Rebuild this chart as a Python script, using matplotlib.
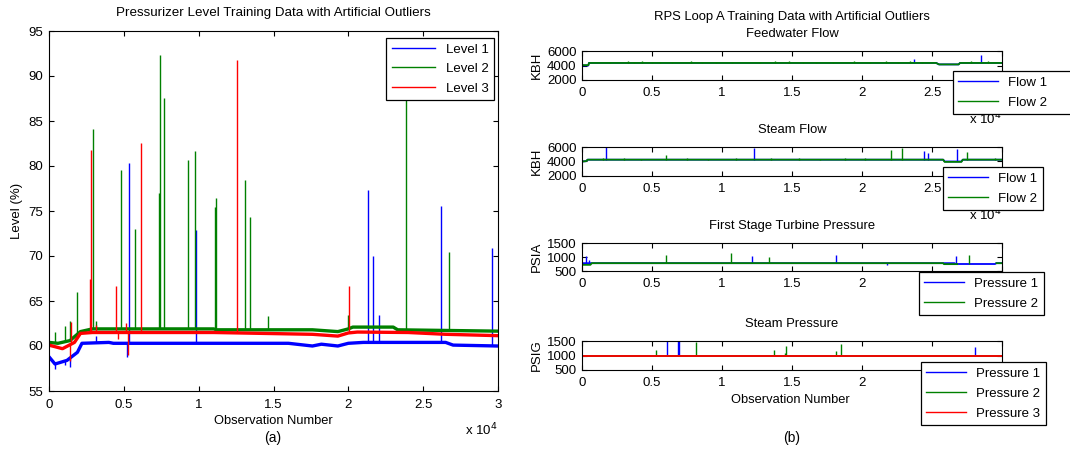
import numpy as np
import matplotlib.pyplot as plt
from matplotlib.ticker import FuncFormatter

plt.rcParams['font.family'] = ['Liberation Sans', 'DejaVu Sans']
plt.rcParams['font.size'] = 9.5

BLUE = (0, 0, 1)
GREEN = (0, 0.5, 0)
RED = (1, 0, 0)

# ---- pressurizer level (%) : baseline knots and outlier spikes ----
lvl1_x = [0, 400, 1200, 1900, 2200, 4000, 4300, 9000, 16000, 17600, 18200, 19300, 20000, 21000, 26500, 27000, 30000]
lvl1_y = [58.8, 58.0, 58.4, 59.3, 60.3, 60.4, 60.3, 60.3, 60.3, 60.0, 60.2, 60.0, 60.3, 60.4, 60.4, 60.1, 60.0]
lvl1_spk_x = [400, 1100, 1400, 3150, 5200, 5366, 9844, 21300, 21620, 22050, 26170, 29580]
lvl1_spk_y = [57.5, 57.9, 57.7, 61.1, 58.8, 80.3, 72.9, 77.3, 70.0, 63.5, 75.6, 70.9]

lvl2_x = [0, 600, 1400, 2100, 2900, 11000, 11200, 17600, 19300, 20000, 20300, 23000, 23300, 30000]
lvl2_y = [60.4, 60.3, 60.6, 61.6, 61.9, 61.9, 61.8, 61.8, 61.6, 61.9, 62.1, 62.1, 61.8, 61.65]
lvl2_spk_x = [390, 1070, 1400, 1848, 2940, 3150, 4790, 5768, 7350, 7416, 7706, 9287, 9777,
              11091, 11158, 13128, 13430, 14630, 20000, 23853, 26700]
lvl2_spk_y = [61.6, 62.2, 62.8, 66.0, 84.1, 62.8, 79.6, 73.0, 77.0, 92.3, 87.6, 80.7, 81.7,
              75.5, 76.5, 78.4, 74.3, 63.3, 63.4, 90.0, 70.5]

lvl3_x = [0, 900, 1700, 2100, 2900, 11000, 17600, 19300, 20000, 20600, 24000, 26500, 30000]
lvl3_y = [60.1, 59.7, 60.4, 61.4, 61.5, 61.5, 61.3, 61.1, 61.45, 61.55, 61.5, 61.3, 61.15]
lvl3_spk_x = [1400, 1450, 2740, 2806, 3150, 4455, 4600, 5150, 5250, 6125, 12561, 20050]
lvl3_spk_y = [58.3, 62.7, 67.5, 81.8, 62.3, 66.7, 60.8, 62.6, 59.0, 82.6, 91.8, 66.7]

# ---- feedwater flow (KBH) ----
fw1_x = [0, 450, 500, 25300, 25500, 26900, 27000, 30000]
fw1_y = [4000, 4000, 4350, 4350, 4150, 4150, 4350, 4350]
fw1_spk_x = [23738, 28500]
fw1_spk_y = [4950, 5500]
fw2_x = [0, 450, 500, 25300, 25500, 26900, 27000, 30000]
fw2_y = [4050, 4050, 4350, 4350, 4150, 4150, 4350, 4350]
fw2_spk_x = [2000, 3300, 3700, 4300, 5000, 5600, 6400, 7800, 8600, 9600, 10700, 12700, 13800,
             14800, 15800, 16700, 17900, 19400, 20600, 21700, 22600, 23400, 24300, 27800, 29000]
fw2_spk_y = [4550, 4600, 4550, 4600, 4550, 4500, 4550, 4600, 4550, 4550, 4500, 4550, 4600,
             4600, 4550, 4550, 4550, 4600, 4550, 4600, 4550, 4600, 4500, 4600, 4650]

# ---- steam flow (KBH) ----
sf1_x = [0, 300, 400, 25800, 25900, 27100, 27200, 30000]
sf1_y = [4000, 4050, 4250, 4250, 4000, 4000, 4250, 4250]
sf1_spk_x = [1714, 12310, 24400, 24700, 26786]
sf1_spk_y = [5950, 5820, 5400, 5170, 5680]
sf2_x = [0, 300, 400, 25800, 25900, 27100, 27200, 30000]
sf2_y = [4000, 4050, 4250, 4250, 3950, 3950, 4250, 4250]
sf2_spk_x = [1500, 3000, 4200, 5976, 7500, 9000, 11000, 13500, 15500, 17000, 18800, 20200, 22071, 22880, 27500, 29500]
sf2_spk_y = [4450, 4450, 4400, 4950, 4450, 4400, 4450, 4450, 4450, 4400, 4450, 4450, 5540, 5860, 5270, 4450]

# ---- first stage turbine pressure (PSIA) ----
ft1_x = [0, 26600, 26700, 29500, 29600, 30000]
ft1_y = [780, 780, 750, 750, 780, 780]
ft1_spk_x = [262, 500, 12143, 18167, 21786, 26690]
ft1_spk_y = [1050, 900, 1030, 1070, 730, 1030]
ft2_x = [0, 600, 700, 25800, 25850, 26800, 26850, 26900, 29550, 29600, 30000]
ft2_y = [720, 720, 780, 780, 745, 745, np.nan, np.nan, np.nan, 780, 780]
ft2_spk_x = [5976, 10619, 13357, 27667]
ft2_spk_y = [1068, 1131, 1005, 1068]

# ---- steam pressure (PSIG) ----
sp_x = [0, 30000]
sp1_y = [1000, 1000]
sp2_y = [1000, 1000]
sp3_y = [1000, 1000]
sp1_spk_x = [6048, 6881, 6950, 28071]
sp1_spk_y = [1500, 1500, 1500, 1295]
sp2_spk_x = [5286, 8119, 13714, 14500, 14595, 18119, 18476]
sp2_spk_y = [1180, 1455, 1180, 1100, 1340, 1150, 1385]


def draw(ax, x, y, sx, sy, color, label, lw):
    line, = ax.plot(x, y, color=color, lw=lw, label=label)
    if len(sx):
        ok = ~np.isnan(y)
        base = np.interp(sx, np.asarray(x)[ok], np.asarray(y)[ok])
        ax.vlines(sx, base, sy, color=color, lw=1.0)
    return line


def style(ax, ylim, yticks, xpad):
    ax.set_xlim(0, 30000)
    ax.set_ylim(*ylim)
    ax.set_yticks(yticks)
    ax.set_xticks(np.arange(0, 30001, 5000))
    ax.xaxis.set_major_formatter(FuncFormatter(lambda v, p: '%g' % (v / 1e4)))
    ax.tick_params(direction='in', top=True, right=True, length=3.5, width=0.8)
    ax.tick_params(axis='x', pad=xpad)
    ax.tick_params(axis='y', pad=4)
    for s in ax.spines.values():
        s.set_linewidth(0.8)


W, H = 1070, 449
fig = plt.figure(figsize=(W / 100, H / 100), dpi=100)


def box(l, t, r, b):
    return [l / W, 1 - b / H, (r - l) / W, (b - t) / H]


# left: pressurizer level
ax = fig.add_axes(box(49, 31, 498, 391))
h1 = draw(ax, lvl1_x, lvl1_y, lvl1_spk_x, lvl1_spk_y, BLUE, 'Level 1', 2.4)
h2 = draw(ax, lvl2_x, lvl2_y, lvl2_spk_x, lvl2_spk_y, GREEN, 'Level 2', 2.4)
h3 = draw(ax, lvl3_x, lvl3_y, lvl3_spk_x, lvl3_spk_y, RED, 'Level 3', 2.4)
style(ax, (55, 95), np.arange(55, 96, 5), 6)
ax.text(1.0, -0.085, r'x 10$^4$', transform=ax.transAxes, ha='right', va='top', zorder=3)
ax.set_ylabel('Level (%)', labelpad=4)
leg = ax.legend(handles=[h1, h2, h3], loc='upper right', bbox_to_anchor=(494 / W, 1 - 38 / H),
                bbox_transform=fig.transFigure, fontsize=9.5, fancybox=False, framealpha=1,
                edgecolor='black', handlelength=3.3, borderaxespad=0, labelspacing=0.55)
for l in leg.get_lines():
    l.set_linewidth(1.0)
leg.get_frame().set_linewidth(0.9)
fig.text(273 / W, 1 - 13 / H, 'Pressurizer Level Training Data with Artificial Outliers',
         ha='center', va='center', fontsize=9.6)
fig.text(273 / W, 1 - 421 / H, 'Observation Number', ha='center', va='center', fontsize=9.3)
fig.text(273 / W, 1 - 438 / H, '(a)', ha='center', va='center', fontsize=10)

# right: RPS loop A
panels = [
    (51, 80, 'Feedwater Flow', 'KBH', (2000, 6000), [2000, 4000, 6000],
     [(fw1_x, fw1_y, fw1_spk_x, fw1_spk_y, BLUE, 'Flow 1'),
      (fw2_x, fw2_y, fw2_spk_x, fw2_spk_y, GREEN, 'Flow 2')], (953, 71), True),
    (147, 176, 'Steam Flow', 'KBH', (2000, 6000), [2000, 4000, 6000],
     [(sf1_x, sf1_y, sf1_spk_x, sf1_spk_y, BLUE, 'Flow 1'),
      (sf2_x, sf2_y, sf2_spk_x, sf2_spk_y, GREEN, 'Flow 2')], (943, 167), False),
    (243, 271, 'First Stage Turbine Pressure', 'PSIA', (500, 1500), [500, 1000, 1500],
     [(ft1_x, ft1_y, ft1_spk_x, ft1_spk_y, BLUE, 'Pressure 1'),
      (ft2_x, ft2_y, ft2_spk_x, ft2_spk_y, GREEN, 'Pressure 2')], (919, 272), False),
    (341, 370, 'Steam Pressure', 'PSIG', (500, 1500), [500, 1000, 1500],
     [(sp_x, sp1_y, sp1_spk_x, sp1_spk_y, BLUE, 'Pressure 1'),
      (sp_x, sp2_y, sp2_spk_x, sp2_spk_y, GREEN, 'Pressure 2'),
      (sp_x, sp3_y, [], [], RED, 'Pressure 3')], (921, 362), False),
]

for top, bot, title, unit, ylim, yt, series, lpos, wide in panels:
    a = fig.add_axes(box(582, top, 1002, bot))
    hs = [draw(a, *s[:4], color=s[4], label=s[5], lw=1.3) for s in series]
    style(a, ylim, yt, 5)
    a.text(1.0, -1.05, r'x 10$^4$', transform=a.transAxes, ha='right', va='top', zorder=3)
    a.set_ylabel(unit, labelpad=3, fontsize=9.5)
    fig.text(792 / W, 1 - (top - 17) / H, title, ha='center', va='center', fontsize=9.4)
    anchor = (lpos[0] / W, 1 - lpos[1] / H)
    if wide:
        # this legend runs off the right edge of the figure
        anchor = (lpos[0] / W, 1 - lpos[1] / H, 150 / W, 0)
    lg = a.legend(handles=hs, loc='upper left', bbox_to_anchor=anchor,
                  bbox_transform=fig.transFigure, fontsize=9.5, fancybox=False, framealpha=1,
                  edgecolor='black', handlelength=3.0, borderaxespad=0, labelspacing=0.6,
                  mode='expand' if wide else None)
    for l in lg.get_lines():
        l.set_linewidth(1.0)
    lg.get_frame().set_linewidth(0.9)

fig.text(792 / W, 1 - 17 / H, 'RPS Loop A Training Data with Artificial Outliers',
         ha='center', va='center', fontsize=9.4)
fig.text(790 / W, 1 - 400 / H, 'Observation Number', ha='center', va='center', fontsize=9.3)
fig.text(792 / W, 1 - 438 / H, '(b)', ha='center', va='center', fontsize=10)

fig.savefig('out.png', dpi=100)
